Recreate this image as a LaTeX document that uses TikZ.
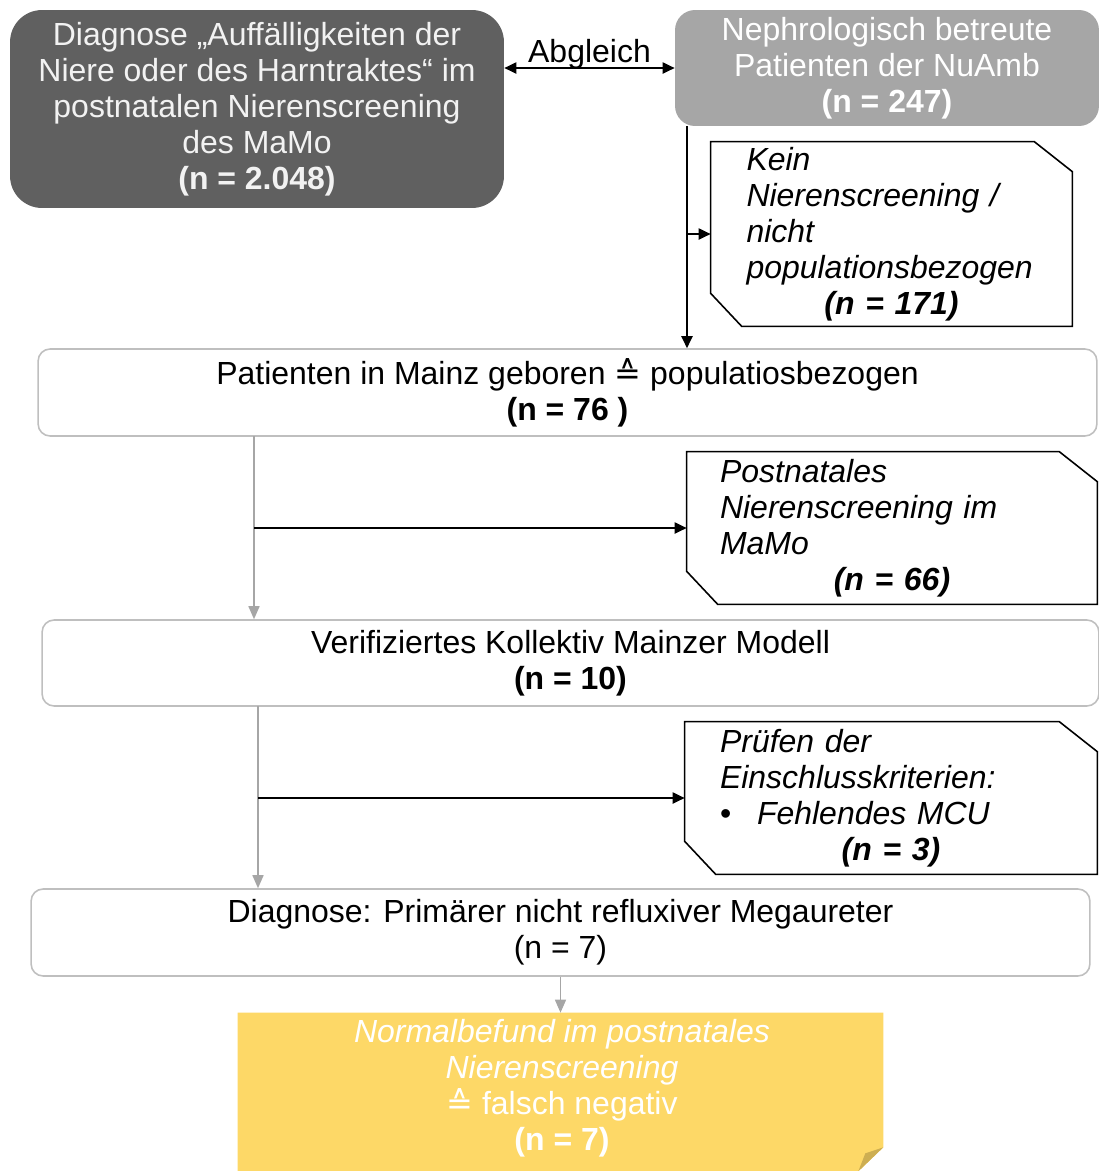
\documentclass[tikz,border=0pt]{standalone}
\usepackage{fontspec}
\setmainfont{Liberation Sans}
\newfontfamily\symfont{DejaVu Sans}
\usetikzlibrary{arrows.meta, positioning}

\definecolor{darkgrey}{HTML}{606060}
\definecolor{midgrey}{HTML}{A6A6A6}
\definecolor{framegrey}{HTML}{BFBFBF}
\definecolor{gold}{HTML}{FDD867}
\definecolor{golddark}{HTML}{CDAE52}
\definecolor{paleText}{HTML}{F2F2F2}

\tikzset{
	base/.style={rectangle, inner sep=0pt, align=center, font=\fontsize{18.2}{20.5}\selectfont},
	darkbox/.style={base, fill=darkgrey, rounded corners=0.64cm, text=paleText},
	greybox/.style={base, fill=midgrey, rounded corners=0.4cm, text=white},
	whitebox/.style={base, draw=framegrey, line width=0.9pt, rounded corners=0.24cm},
	cutbox/.style={base, align=left},
	cutline/.style={draw=black, line width=0.9pt},
	blackarrow/.style={line width=1.1pt, -{Triangle[length=0.24cm, width=0.22cm]}},
	greyarrow/.style={draw=midgrey, line width=0.9pt, -{Triangle[length=0.26cm, width=0.22cm]}}
}

% outline with two cut corners
\newcommand{\cutframe}[1]{%
	\draw[cutline] (#1.north west) -- ([xshift=-0.76cm]#1.north east) -- ([yshift=-0.6cm]#1.north east)
		-- (#1.south east) -- ([xshift=0.62cm]#1.south west) -- ([yshift=0.66cm]#1.south west) -- cycle;}

\begin{document}
\begin{tikzpicture}[x=0.02cm, y=-0.02cm]
	\useasboundingbox (0,0) rectangle (1099,1171);

	% top row
	\node[darkbox, minimum width=9.88cm, minimum height=3.96cm] (diag) at (257,109)
		{Diagnose „Auffälligkeiten der\\Niere oder des Harntraktes“ im\\postnatalen Nierenscreening\\des MaMo\\\textbf{(n = 2.048)}};
	\node[greybox, minimum width=8.48cm, minimum height=2.32cm] (neph) at (887,68)
		{Nephrologisch betreute\\Patienten der NuAmb\\\textbf{(n = 247)}};
	\draw[line width=1.1pt, {Triangle[length=0.24cm, width=0.22cm]}-{Triangle[length=0.24cm, width=0.22cm]}]
		(diag.east |- neph.west) -- (neph.west) node[midway, above=-1pt, base] (abgl) {Abgleich};

	% exclusion 1
	\node[cutbox, minimum width=7.22cm, minimum height=3.68cm, text width=5.8cm] (kein) at (891.5,234)
		{\textit{Kein}\\\textit{Nierenscreening /}\\\textit{nicht}\\\textit{populationsbezogen}\\\makebox[\hsize]{\textbf{\textit{(n = 171)}}}};
	\cutframe{kein}

	\node[whitebox, minimum width=21.18cm, minimum height=1.74cm] (geb) at (567.5,392.5)
		{Patienten in Mainz geboren {\symfont ≙} populatiosbezogen\\\textbf{(n = 76 )}};

	\coordinate (n1) at (687,126);
	\draw[blackarrow] (n1) -- (n1 |- geb.north);
	\draw[blackarrow] (n1 |- kein.west) -- (kein.west);

	% exclusion 2
	\node[cutbox, minimum width=8.2cm, minimum height=3.04cm, text width=6.88cm] (postn) at (892,528)
		{\textit{Postnatales}\\\textit{Nierenscreening im}\\\textit{MaMo}\\\makebox[\hsize]{\textbf{\textit{(n = 66)}}}};
	\cutframe{postn}

	\node[whitebox, minimum width=21.14cm, minimum height=1.72cm] (verif) at (570.5,663)
		{Verifiziertes Kollektiv Mainzer Modell\\\textbf{(n = 10)}};

	\coordinate (g1) at (254,436);
	\draw[greyarrow] (g1) -- (g1 |- verif.north);
	\draw[blackarrow] (g1 |- postn.west) -- (postn.west);

	% exclusion 3
	\node[cutbox, minimum width=8.24cm, minimum height=3.04cm, text width=6.84cm] (pruef) at (891,798)
		{\textit{Prüfen der}\\\textit{Einschlusskriterien:}\\\makebox[0.74cm][l]{\textbullet}\textit{Fehlendes MCU}\\\makebox[\hsize]{\textbf{\textit{(n = 3)}}}};
	\cutframe{pruef}

	\node[whitebox, minimum width=21.18cm, minimum height=1.74cm] (diag2) at (560.5,932.5)
		{Diagnose: Primärer nicht refluxiver Megaureter\\(n = 7)};

	\coordinate (g2) at (258,706);
	\draw[greyarrow] (g2) -- (g2 |- diag2.north);
	\draw[blackarrow] (g2 |- pruef.west) -- (pruef.west);

	% result
	\node[base, minimum width=12.9cm, minimum height=3.16cm] (yel) at (560.5,1092) {};
	\fill[gold] (yel.north west) -- (yel.north east) -- ([yshift=0.48cm]yel.south east)
		-- ([xshift=-0.5cm]yel.south east) -- (yel.south west) -- cycle;
	\fill[golddark] ([yshift=0.48cm]yel.south east) -- ([xshift=-0.5cm]yel.south east)
		-- ([xshift=-0.36cm, yshift=0.36cm]yel.south east) -- cycle;
	\node[base, text=white] (yeltext) at (562,1088)
		{\textit{Normalbefund im postnatales}\\\textit{Nierenscreening}\\{\symfont ≙} falsch negativ\\\textbf{(n = 7)}};
	\draw[greyarrow] (diag2.south) -- (yel.north);
\end{tikzpicture}
\end{document}
